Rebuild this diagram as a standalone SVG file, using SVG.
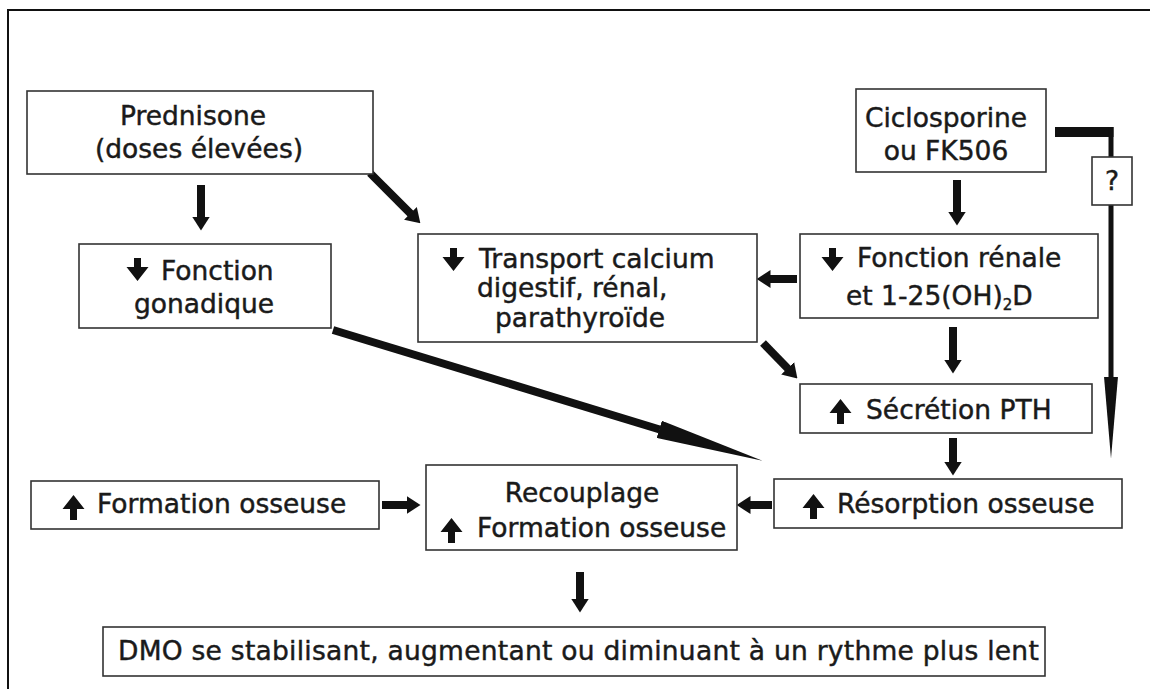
<svg xmlns="http://www.w3.org/2000/svg" width="1150" height="689" viewBox="0 0 1150 689">
  <style>
    .box { fill: #fff; stroke: #333; stroke-width: 1.6; }
    .t { font-family: "DejaVu Sans", "Noto Sans", sans-serif; font-size: 26.5px; fill: #1a1a1a; stroke: #1a1a1a; stroke-width: 0.45; }
    .c { text-anchor: middle; }
    .conn { stroke: #111; fill: none; stroke-linecap: butt; }
    .fat { stroke-width: 8; }
    .icon { fill: #111; }
  </style>
  <defs>
    <!-- block arrowhead for the thick connectors -->
    <marker id="head" markerUnits="userSpaceOnUse" viewBox="0 0 14 18" markerWidth="14" markerHeight="18" refX="0.5" refY="9" orient="auto">
      <path d="M0,0 L14,9 L0,18 Z" fill="#111"/>
    </marker>
    <!-- long tapering spike heads -->
    <marker id="spike" markerUnits="userSpaceOnUse" viewBox="0 0 108 18" markerWidth="108" markerHeight="18" refX="0.5" refY="9" orient="auto">
      <path d="M0,0 L108,9 L0,18 Z" fill="#111"/>
    </marker>
    <marker id="spikeV" markerUnits="userSpaceOnUse" viewBox="0 0 82 14" markerWidth="82" markerHeight="14" refX="0.5" refY="7" orient="auto">
      <path d="M0,0 L82,7 L0,14 Z" fill="#111"/>
    </marker>
    <!-- small up/down indicators used inside the boxes -->
    <path id="down" d="M7,0 H14 V9 H21.5 L10.5,23 L-0.5,9 H7 Z"/>
    <path id="up" d="M10.5,0 L21.5,14 H14 V25 H7 V14 H-0.5 Z"/>
  </defs>

  <!-- frame -->
  <path d="M8,689 V10 H1150" fill="none" stroke="#111" stroke-width="2"/>

  <g id="connectors">
    <line class="conn fat" x1="201" y1="185" x2="201" y2="217" marker-end="url(#head)"/>
    <line class="conn fat" x1="370" y1="173" x2="410.8" y2="213.8" marker-end="url(#head)"/>
    <line class="conn fat" x1="957" y1="180" x2="957" y2="212" marker-end="url(#head)"/>
    <line class="conn fat" x1="797" y1="279" x2="770" y2="279" marker-end="url(#head)"/>
    <line class="conn fat" x1="953" y1="327" x2="953" y2="360" marker-end="url(#head)"/>
    <line class="conn fat" x1="763" y1="343" x2="788" y2="368.7" marker-end="url(#head)"/>
    <line class="conn fat" x1="953" y1="438" x2="953" y2="462" marker-end="url(#head)"/>
    <line class="conn fat" x1="772" y1="505" x2="750" y2="505" marker-end="url(#head)"/>
    <line class="conn fat" x1="382" y1="505" x2="407" y2="505" marker-end="url(#head)"/>
    <line class="conn fat" x1="580" y1="572" x2="580" y2="599" marker-end="url(#head)"/>
    <line class="conn fat" x1="333" y1="330" x2="659.7" y2="429.5" marker-end="url(#spike)"/>
    <path class="conn" d="M1055,132 H1113.5" stroke-width="10"/>
    <path class="conn" d="M1111,127 V157" stroke-width="5"/>
    <line class="conn" x1="1111" y1="205" x2="1111" y2="377" stroke-width="5" marker-end="url(#spikeV)"/>
  </g>

  <g id="prednisone">
    <rect class="box" x="27" y="91" width="346" height="83"/>
    <text class="t c" x="193" y="125">Prednisone</text>
    <text class="t c" x="199" y="158">(doses élevées)</text>
  </g>

  <g id="ciclosporine">
    <rect class="box" x="856" y="89" width="190" height="83"/>
    <text class="t c" x="946" y="127">Ciclosporine</text>
    <text class="t c" x="946" y="160">ou FK506</text>
  </g>

  <g id="question">
    <rect class="box" x="1092" y="157" width="40" height="48"/>
    <text class="t c" x="1112" y="190">?</text>
  </g>

  <g id="gonadique">
    <rect class="box" x="79" y="244" width="252" height="84"/>
    <use href="#down" class="icon" x="127" y="258"/>
    <text class="t" x="161" y="280">Fonction</text>
    <text class="t c" x="204" y="313">gonadique</text>
  </g>

  <g id="transport">
    <rect class="box" x="418" y="234" width="339" height="108"/>
    <use href="#down" class="icon" x="443" y="248"/>
    <text class="t" x="479" y="268">Transport calcium</text>
    <text class="t" x="477" y="297">digestif, rénal,</text>
    <text class="t c" x="580" y="327">parathyroïde</text>
  </g>

  <g id="renale">
    <rect class="box" x="800" y="234" width="298" height="84"/>
    <use href="#down" class="icon" x="822" y="248"/>
    <text class="t" x="857" y="267">Fonction rénale</text>
    <text class="t" x="846" y="305">et 1-25(OH)<tspan font-size="15" dy="5">2</tspan><tspan dy="-5">D</tspan></text>
  </g>

  <g id="pth">
    <rect class="box" x="800" y="384" width="292" height="49"/>
    <use href="#up" class="icon" x="830" y="399"/>
    <text class="t" x="866" y="419">Sécrétion PTH</text>
  </g>

  <g id="resorption">
    <rect class="box" x="774" y="479" width="348" height="49"/>
    <use href="#up" class="icon" x="803" y="494"/>
    <text class="t" x="837" y="513">Résorption osseuse</text>
  </g>

  <g id="recouplage">
    <rect class="box" x="426" y="465" width="311" height="85"/>
    <text class="t c" x="582" y="502">Recouplage</text>
    <use href="#up" class="icon" x="441" y="518"/>
    <text class="t" x="477" y="537">Formation osseuse</text>
  </g>

  <g id="formation">
    <rect class="box" x="31" y="481" width="348" height="48"/>
    <use href="#up" class="icon" x="63" y="495"/>
    <text class="t" x="97" y="513">Formation osseuse</text>
  </g>

  <g id="dmo">
    <rect class="box" x="103" y="627" width="942" height="49"/>
    <text class="t" x="118" y="660" letter-spacing="0.25">DMO se stabilisant, augmentant ou diminuant à un rythme plus lent</text>
  </g>
</svg>
